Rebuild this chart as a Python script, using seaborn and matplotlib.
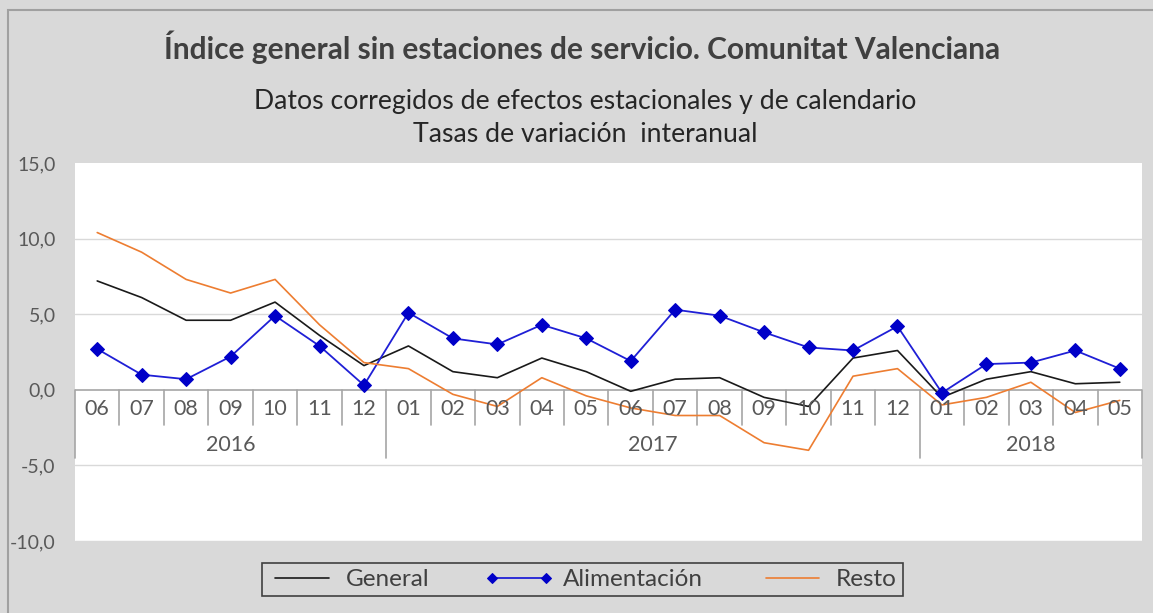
import numpy as np
import pandas as pd
import matplotlib
matplotlib.use("Agg")
import matplotlib.pyplot as plt
import seaborn as sns
from matplotlib.patches import Rectangle

# ---- data ----
months = ["06", "07", "08", "09", "10", "11", "12",
          "01", "02", "03", "04", "05", "06", "07", "08", "09", "10", "11", "12",
          "01", "02", "03", "04", "05"]
years = ["2016", "2017", "2018"]
year_counts = [7, 12, 5]

general = [7.2, 6.1, 4.6, 4.6, 5.8, 3.6, 1.6,
           2.9, 1.2, 0.8, 2.1, 1.2, -0.1, 0.7, 0.8, -0.5, -1.1, 2.1, 2.6,
           -0.5, 0.7, 1.2, 0.4, 0.5]
alimentacion = [2.7, 1.0, 0.7, 2.2, 4.9, 2.9, 0.3,
                5.1, 3.4, 3.0, 4.3, 3.4, 1.9, 5.3, 4.9, 3.8, 2.8, 2.6, 4.2,
                -0.2, 1.7, 1.8, 2.6, 1.4]
resto = [10.4, 9.1, 7.3, 6.4, 7.3, 4.3, 1.8,
         1.4, -0.3, -1.1, 0.8, -0.4, -1.2, -1.7, -1.7, -3.5, -4.0, 0.9, 1.4,
         -1.0, -0.5, 0.5, -1.5, -0.7]
yticks = [15, 10, 5, 0, -5, -10]
ytick_labels = ["15,0", "10,0", "5,0", "0,0", "-5,0", "-10,0"]

title = "Índice general sin estaciones de servicio. Comunitat Valenciana"
subtitle1 = "Datos corregidos de efectos estacionales y de calendario"
subtitle2 = "Tasas de variación  interanual"

# ---- style ----
sns.set_theme(style="white")
plt.rcParams["font.family"] = ["Lato", "DejaVu Sans"]

BG = "#d9d9d9"
W, H = 1153, 613
fig = plt.figure(figsize=(W / 100, H / 100), dpi=100, facecolor=BG)
ax = fig.add_axes([75 / W, 1 - 541 / H, (1142 - 75) / W, (541 - 163) / H])
ax.set_facecolor("white")

x = np.arange(len(months))
df = pd.DataFrame({"x": x, "General": general, "Alimentación": alimentacion, "Resto": resto})

sns.lineplot(data=df, x="x", y="General", ax=ax, color="#1a1a1a", linewidth=1.2, label="General")
sns.lineplot(data=df, x="x", y="Alimentación", ax=ax, color="#1f1fd6", linewidth=1.3,
             marker="D", markersize=7, markerfacecolor="#0000c8", markeredgecolor="#0000c8",
             label="Alimentación")
sns.lineplot(data=df, x="x", y="Resto", ax=ax, color="#ed7d31", linewidth=1.2, label="Resto")

ax.set_xlim(-0.5, len(months) - 0.5)
ax.set_ylim(-10, 15)
for s in ax.spines.values():
    s.set_visible(False)

# gridlines
for v in [10, 5, -5, -10]:
    ax.axhline(v, color="#d9d9d9", linewidth=1.0, zorder=0)

ax.set_yticks(yticks)
ax.set_yticklabels(ytick_labels, fontsize=14, color="#595959")
ax.tick_params(axis="y", length=0, pad=14)
ax.set_xticks([])
ax.set_xlabel("")
ax.set_ylabel("")

# category axis at zero
axis_col = "#a6a6a6"
ax.axhline(0, color=axis_col, linewidth=1.2, zorder=1)
year_bounds = np.cumsum([0] + year_counts) - 0.5
for b in np.arange(-0.5, len(months), 1.0):
    long = any(np.isclose(b, year_bounds))
    ax.plot([b, b], [0, -4.5 if long else -2.3], color=axis_col, linewidth=1.2,
            clip_on=False, zorder=1)
for i, m in enumerate(months):
    ax.text(i, -1.3, m, ha="center", va="center", fontsize=15.5, color="#595959")
for yr, a, b in zip(years, year_bounds[:-1], year_bounds[1:]):
    ax.text((a + b) / 2, -3.65, yr, ha="center", va="center", fontsize=15.5, color="#595959")

# titles
fig.text(582 / W, 1 - 47 / H, title, ha="center", va="center", fontsize=21.5,
         fontweight="bold", color="#404040")
fig.text(585 / W, 1 - 101 / H, subtitle1, ha="center", va="center", fontsize=19.2, color="#262626")
fig.text(585 / W, 1 - 135 / H, subtitle2, ha="center", va="center", fontsize=19.2, color="#262626")

# outer border
fig.patches.append(Rectangle((8 / W, -0.1), 1.2, 1 - 9.5 / H + 0.1, transform=fig.transFigure,
                             fill=False, edgecolor="#a0a0a0", linewidth=1.5))

# legend
if ax.get_legend():
    ax.get_legend().remove()
handles, labels = ax.get_legend_handles_labels()
leg = fig.legend(handles, labels, loc="center", ncol=3, mode="expand",
                 bbox_to_anchor=(262 / W, 1 - 598 / H, 641 / W, 37 / H),
                 frameon=True, fancybox=False, fontsize=17.5, numpoints=2,
                 handlelength=2.8, handletextpad=0.4, borderaxespad=0.0,
                 borderpad=0.25, labelcolor="#404040")
for h in leg.legend_handles:
    h.set_markersize(5)
leg.get_frame().set_edgecolor("#1a1a1a")
leg.get_frame().set_facecolor(BG)
leg.get_frame().set_linewidth(1.2)

fig.savefig("out.png", dpi=100, facecolor=BG)
